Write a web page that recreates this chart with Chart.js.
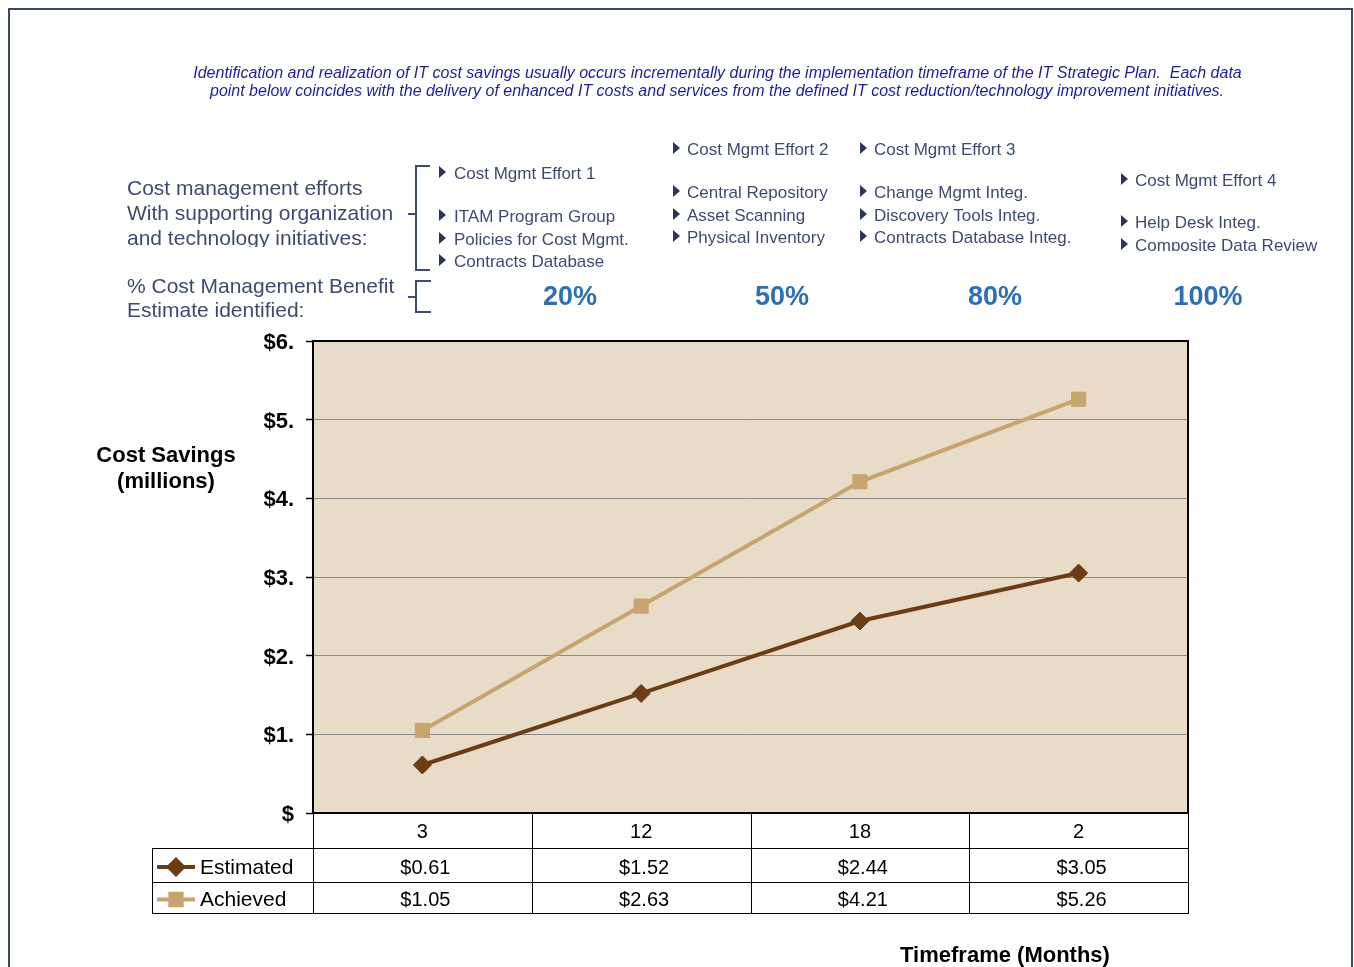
<!DOCTYPE html>
<html><head><meta charset="utf-8">
<script src="https://cdn.jsdelivr.net/npm/chart.js@4/dist/chart.umd.min.js"></script>
<style>html,body{margin:0;padding:0;background:#fff;overflow:hidden}canvas{display:block}</style>
</head><body>
<canvas id="c" width="1354" height="967"></canvas>
<script>
// ---- data ----
const months = ['3', '12', '18', '2'];
const estimated = [0.61, 1.52, 2.44, 3.05];
const achieved = [1.05, 2.63, 4.21, 5.26];
const yTickLabels = ['$', '$1.', '$2.', '$3.', '$4.', '$5.', '$6.'];
const seriesNames = ['Estimated', 'Achieved'];
const introLines = [
  'Identification and realization of IT cost savings usually occurs incrementally during the implementation timeframe of the IT Strategic Plan.  Each data',
  'point below coincides with the delivery of enhanced IT costs and services from the defined IT cost reduction/technology improvement initiatives.'
];
const effortLabelLines = ['Cost management efforts', 'With supporting organization', 'and technology initiatives:'];
const benefitLabelLines = ['% Cost Management Benefit', 'Estimate identified:'];
const effortHeads = ['Cost Mgmt Effort 1', 'Cost Mgmt Effort 2', 'Cost Mgmt Effort 3', 'Cost Mgmt Effort 4'];
const effortItems = [
  ['ITAM Program Group', 'Policies for Cost Mgmt.', 'Contracts Database'],
  ['Central Repository', 'Asset Scanning', 'Physical Inventory'],
  ['Change Mgmt Integ.', 'Discovery Tools Integ.', 'Contracts Database Integ.'],
  ['Help Desk Integ.', 'Composite Data Review']
];
const benefitPct = ['20%', '50%', '80%', '100%'];
const yTitleLines = ['Cost Savings', '(millions)'];
const xTitle = 'Timeframe (Months)';

// ---- styles / layout ----
const FONT = '"Liberation Sans", Arial, Helvetica, sans-serif';
const SLATE = '#3f4b6e';
const BULLET = '#2b3558';
const INTRO = '#1e1e9a';
const PCT = '#2f6fb3';
const EST_COLOR = '#6b3d17';
const ACH_COLOR = '#c8a46e';
const PLOT_BG = '#e8dcc8';

const effortCols = [
  {bx: 439, tx: 454, headY: 173, itemY: [216, 239, 261], clip: 967},
  {bx: 673, tx: 687, headY: 149, itemY: [192, 215, 237], clip: 967},
  {bx: 860, tx: 874, headY: 149, itemY: [192, 215, 237], clip: 967},
  {bx: 1121, tx: 1135, headY: 180, itemY: [222, 245], clip: 251}
];
const pctX = [570, 782, 995, 1208];
const tableRows = [848, 882, 913];
const tableLeft = 152;

function bullet(ctx, x, y) {
  ctx.fillStyle = BULLET;
  ctx.beginPath();
  ctx.moveTo(x, y - 6);
  ctx.lineTo(x + 7, y);
  ctx.lineTo(x, y + 6);
  ctx.closePath();
  ctx.fill();
}

const annot = {
  id: 'annot',
  beforeDraw(chart) {
    const {ctx, chartArea: a} = chart;
    ctx.save();
    ctx.fillStyle = '#fff';
    ctx.fillRect(0, 0, chart.width, chart.height);
    ctx.fillStyle = PLOT_BG;
    ctx.fillRect(a.left, a.top, a.right - a.left, a.bottom - a.top);
    ctx.restore();
  },
  beforeDatasetsDraw(chart) {
    const {ctx, chartArea: a} = chart;
    ctx.save();
    ctx.strokeStyle = '#000';
    ctx.lineWidth = 2;
    ctx.strokeRect(a.left, a.top, a.right - a.left, a.bottom - a.top);
    ctx.restore();
  },
  afterDraw(chart) {
    const {ctx, chartArea: a} = chart;
    const xs = chart.scales.x;
    ctx.save();
    // page frame
    ctx.strokeStyle = '#3b4670';
    ctx.lineWidth = 2;
    ctx.strokeRect(9, 9, 1343, 1000);

    // intro
    ctx.fillStyle = INTRO;
    ctx.font = 'italic 16px ' + FONT;
    ctx.textAlign = 'center';
    ctx.textBaseline = 'middle';
    ctx.fillText(introLines[0], 717.5, 74, 1049);
    ctx.fillText(introLines[1], 717, 92, 1014);

    // left labels
    ctx.textAlign = 'left';
    ctx.fillStyle = SLATE;
    ctx.font = '21px ' + FONT;
    ctx.save();
    ctx.beginPath(); ctx.rect(0, 0, 1354, 247); ctx.clip();
    effortLabelLines.forEach((t, i) => ctx.fillText(t, 127, 189 + i * 25));
    ctx.restore();
    benefitLabelLines.forEach((t, i) => ctx.fillText(t, 127, 287 + i * 24));

    // brackets
    ctx.strokeStyle = SLATE;
    ctx.lineWidth = 2;
    ctx.beginPath();
    ctx.moveTo(430, 166); ctx.lineTo(416, 166); ctx.lineTo(416, 270); ctx.lineTo(430, 270);
    ctx.moveTo(408, 214); ctx.lineTo(416, 214);
    ctx.moveTo(431, 281); ctx.lineTo(416, 281); ctx.lineTo(416, 312); ctx.lineTo(431, 312);
    ctx.moveTo(408, 297); ctx.lineTo(416, 297);
    ctx.stroke();

    // effort columns
    ctx.font = '17px ' + FONT;
    effortCols.forEach((c, i) => {
      ctx.save();
      ctx.beginPath(); ctx.rect(0, 0, 1354, c.clip); ctx.clip();
      bullet(ctx, c.bx, c.headY - 1);
      ctx.fillStyle = SLATE;
      ctx.fillText(effortHeads[i], c.tx, c.headY + 1);
      effortItems[i].forEach((t, j) => {
        bullet(ctx, c.bx, c.itemY[j] - 1);
        ctx.fillStyle = SLATE;
        ctx.fillText(t, c.tx, c.itemY[j] + 1);
      });
      ctx.restore();
    });

    // percentages
    ctx.fillStyle = PCT;
    ctx.font = 'bold 27px ' + FONT;
    ctx.textAlign = 'center';
    benefitPct.forEach((t, i) => ctx.fillText(t, pctX[i], 298));

    // y title
    ctx.fillStyle = '#000';
    ctx.font = 'bold 22px ' + FONT;
    ctx.fillText(yTitleLines[0], 166, 456);
    ctx.fillText(yTitleLines[1], 166, 482);
    // x title
    ctx.fillText(xTitle, 1005, 956);

    // data table
    ctx.strokeStyle = '#000';
    ctx.lineWidth = 1;
    const colW = (a.right - a.left) / months.length;
    ctx.beginPath();
    tableRows.forEach(y => { ctx.moveTo(tableLeft, y + 0.5); ctx.lineTo(a.right, y + 0.5); });
    for (let i = 0; i <= months.length; i++) {
      const x = Math.round(a.left + i * colW) + 0.5;
      ctx.moveTo(x, a.bottom); ctx.lineTo(x, tableRows[2] + 1);
    }
    ctx.moveTo(tableLeft + 0.5, tableRows[0]); ctx.lineTo(tableLeft + 0.5, tableRows[2] + 1);
    ctx.stroke();

    chart.data.datasets.forEach((ds, i) => {
      const cy = (tableRows[i] + tableRows[i + 1]) / 2 + 3;
      // legend key
      ctx.strokeStyle = ds.borderColor;
      ctx.lineWidth = 4;
      ctx.beginPath(); ctx.moveTo(157, cy - 1); ctx.lineTo(195, cy - 1); ctx.stroke();
      ctx.fillStyle = ds.borderColor;
      Chart.helpers.drawPoint(ctx, {pointStyle: ds.pointStyle, radius: ds.pointRadius * 0.8, borderWidth: 1, rotation: 0}, 176, cy - 1);
      ctx.fillStyle = '#000';
      ctx.font = '21px ' + FONT;
      ctx.textAlign = 'left';
      ctx.fillText(seriesNames[i], 200, cy);
      ctx.font = '20px ' + FONT;
      ctx.textAlign = 'center';
      ds.data.forEach((v, j) => {
        ctx.fillText('$' + v.toFixed(2), xs.getPixelForValue(j) + 3, cy);
      });
    });
    ctx.restore();
  }
};

new Chart(document.getElementById('c'), {
  type: 'line',
  data: {
    labels: months,
    datasets: [
      {label: seriesNames[0], data: estimated, borderColor: EST_COLOR, backgroundColor: EST_COLOR,
       borderWidth: 4, pointStyle: 'rectRot', pointRadius: 9, pointBorderWidth: 1, tension: 0},
      {label: seriesNames[1], data: achieved, borderColor: ACH_COLOR, backgroundColor: ACH_COLOR,
       borderWidth: 4, pointStyle: 'rect', pointRadius: 10, pointBorderWidth: 1, tension: 0}
    ]
  },
  options: {
    responsive: false,
    devicePixelRatio: 1,
    animation: false,
    events: [],
    layout: {padding: {left: 0, top: 341, right: 166, bottom: 0}},
    plugins: {legend: {display: false}, title: {display: false}, tooltip: {enabled: false}},
    scales: {
      x: {
        type: 'category',
        offset: true,
        grid: {display: false, drawTicks: false},
        border: {display: false},
        ticks: {color: '#000', font: {family: FONT, size: 20}, padding: 7, maxRotation: 0, autoSkip: false},
        afterFit(s) { s.height = 154; }
      },
      y: {
        min: 0, max: 6,
        grid: {color: '#8a8a8a', lineWidth: 1, tickLength: 7, tickColor: '#000', tickWidth: 1.5},
        border: {display: false},
        ticks: {stepSize: 1, color: '#000', padding: 12, labelOffset: 2, font: {family: FONT, size: 22, weight: 'bold'},
                callback: (v) => yTickLabels[v]},
        afterFit(s) { s.width = 313; }
      }
    }
  },
  plugins: [annot]
});
</script>
</body></html>
